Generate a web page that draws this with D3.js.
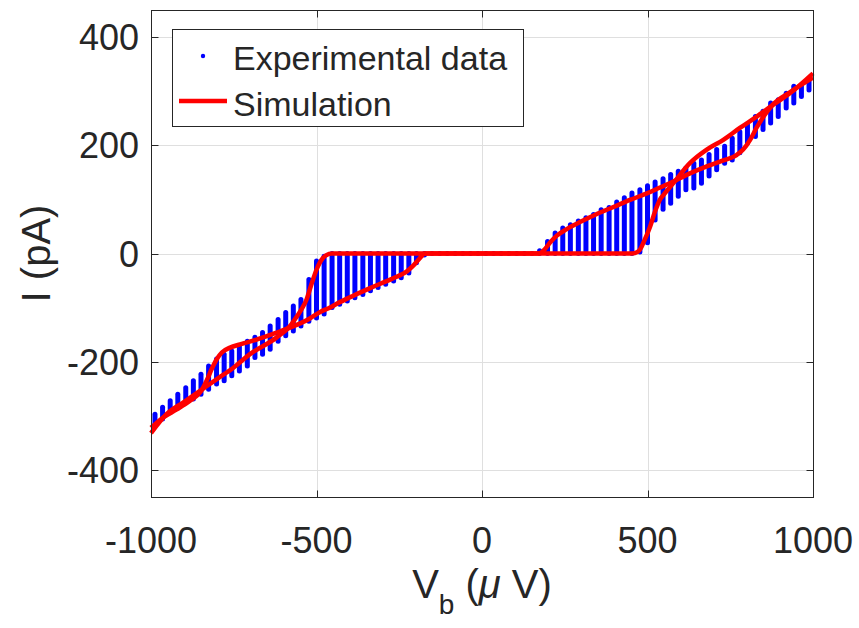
<!DOCTYPE html>
<html>
<head>
<meta charset="utf-8">
<script src="https://cdn.jsdelivr.net/npm/d3@7"></script>
<style>
  body { margin: 0; background: #fff; }
  svg { display: block; }
  text { font-family: "Liberation Sans", Arial, Helvetica, sans-serif; fill: #262626; }
</style>
</head>
<body>
<script>
// bias voltage of each measured sweep column (uV)
var vb = [-988, -965, -942, -919, -895, -872, -849, -826, -802, -779, -756, -733, -709, -686, -663,
          -640, -616, -593, -570, -547, -523, -500, -477, -453, -430, -407, -384, -360, -337, -314,
          -291, -267, -244, -221, -198, -174, -151, -128, -105, -81, -58, -35, -12,
          12, 35, 58, 81, 105, 128, 151, 174, 198, 221, 244, 267, 291, 314, 337, 360, 384,
          407, 430, 453, 477, 500, 523, 547, 570, 593, 616, 640, 663, 686, 709, 733,
          756, 779, 802, 826, 849, 872, 895, 919, 942, 965, 988];
// lowest / highest measured current in each column (pA)
var barLo = [-315, -306, -294, -284, -275, -269, -260, -251, -241, -235, -226, -217, -208, -192, -186,
             -177, -162, -152, -143, -134, -125, -119, -112, -100, -94, -88, -82, -76, -69, -63,
             -57, -51, -45, -36, -17, -3, 0, 0, 0, 0, 0, 0, 0,
             0, 0, 0, 0, 0, 0, 0, 0, 0, 0, 0, 0, 0, 0, 0, 0, 0,
             0, 0, 0, 3, 20, 62, 82, 93, 106, 118, 121, 130, 143, 155, 167,
             173, 186, 204, 216, 229, 241, 253, 269, 278, 290, 302];
var barHi = [-297, -284, -272, -260, -248, -235, -223, -208, -195, -186, -180, -171, -162, -155, -146,
             -134, -122, -109, -97, -85, -48, -14, -5, 0, 0, 0, 0, 0, 0, 0,
             0, 0, 0, 0, 0, 0, 0, 0, 0, 0, 0, 0, 0,
             0, 0, 0, 0, 0, 0, 0, 5, 22, 38, 47, 53, 60, 66, 72, 81, 85,
             95, 103, 112, 118, 125, 132, 138, 146, 152, 158, 167, 173, 183, 192, 198,
             213, 225, 238, 253, 263, 278, 284, 296, 309, 312, 321];

// simulation, branch that opens early (gap at ~170 uV)
var simVA = [-1000, -963, -922, -882, -852, -832, -817, -801, -786, -761, -731, -681, -620, -580,
             -520, -489, -459, -439, -389, -338, -288, -258, -227, -207, -187, -172,
             172, 187, 205, 226, 256, 296, 347, 397, 447, 498, 538, 578, 628, 679, 729,
             769, 789, 810, 830, 855, 880, 930, 1000];
var simIA = [-322, -303, -288, -272, -257, -235, -214, -195, -183, -174, -168, -159, -146, -137,
             -120, -108, -100, -93, -78, -64, -51, -43, -33, -22, -8, 0,
             0, 6, 20, 33, 45, 58, 73, 86, 99, 111, 122, 133, 148, 161, 172,
             182, 192, 210, 233, 257, 276, 298, 325];
// simulation, branch that stays blocked until ~460 uV
var simVB = [-1000, -953, -902, -852, -801, -751, -701, -620, -580, -560, -545, -530, -520, -510,
             -500, -490, -480, -470, -454, 454, 470, 480, 492, 508, 523, 538, 548, 578, 628,
             679, 729, 779, 830, 880, 930, 1000];
var simIB = [-332, -297, -275, -254, -232, -211, -186, -155, -134, -117, -103, -85, -66, -47,
             -30, -17, -8, -3, 0, 0, 3, 10, 26, 50, 78, 100, 108, 130, 167,
             192, 210, 232, 253, 275, 296, 333];

var xTicks = [-1000, -500, 0, 500, 1000];
var yTicks = [-400, -200, 0, 200, 400];

var W = 859, H = 628;
var margin = {top: 10, right: 46, bottom: 131, left: 151},
    width = W - margin.left - margin.right,
    height = H - margin.top - margin.bottom;

var x = d3.scaleLinear().domain([-1000, 1000]).range([margin.left, margin.left + width]);
var y = d3.scaleLinear().domain([-450, 450]).range([margin.top + height, margin.top]);

var svg = d3.select("body").append("svg")
    .attr("width", W)
    .attr("height", H);

var axisCol = "#262626";

// grid
svg.append("g").selectAll("line")
    .data(xTicks.slice(1, -1))
  .enter().append("line")
    .attr("x1", function(d) { return Math.round(x(d)) + 0.5; })
    .attr("x2", function(d) { return Math.round(x(d)) + 0.5; })
    .attr("y1", margin.top)
    .attr("y2", margin.top + height)
    .attr("stroke", "#dfdfdf");
svg.append("g").selectAll("line")
    .data(yTicks)
  .enter().append("line")
    .attr("y1", function(d) { return Math.round(y(d)) + 0.5; })
    .attr("y2", function(d) { return Math.round(y(d)) + 0.5; })
    .attr("x1", margin.left)
    .attr("x2", margin.left + width)
    .attr("stroke", "#dfdfdf");

// experimental data: each sweep column is a dense stack of dots
var plot = svg.append("g");
plot.selectAll(".bar")
    .data(vb)
  .enter().append("line")
    .attr("class", "bar")
    .attr("x1", function(d) { return x(d); })
    .attr("x2", function(d) { return x(d); })
    .attr("y1", function(d, i) { return y(barLo[i]); })
    .attr("y2", function(d, i) { return y(barHi[i]); })
    .attr("stroke", "#0000ff")
    .attr("stroke-width", 5)
    .attr("stroke-linecap", "round");

// simulation curves
var line = d3.line()
    .x(function(d) { return x(d[0]); })
    .y(function(d) { return y(d[1]); })
    .curve(d3.curveMonotoneX);

[[simVA, simIA], [simVB, simIB]].forEach(function(s) {
  plot.append("path")
      .datum(s[0].map(function(v, i) { return [v, s[1][i]]; }))
      .attr("d", line)
      .attr("fill", "none")
      .attr("stroke", "#ff0000")
      .attr("stroke-width", 4.5)
      .attr("stroke-linejoin", "round");
});

// axes box
var x0 = margin.left + 0.5, x1 = margin.left + width + 0.5,
    y0 = margin.top + 0.5, y1 = margin.top + height + 0.5;
svg.append("rect")
    .attr("x", x0).attr("y", y0)
    .attr("width", x1 - x0).attr("height", y1 - y0)
    .attr("fill", "none")
    .attr("stroke", axisCol);

// ticks (inward, all sides)
var tl = 7;
var ticks = svg.append("g").attr("stroke", axisCol);
xTicks.forEach(function(t) {
  var px = Math.round(x(t)) + 0.5;
  ticks.append("line").attr("x1", px).attr("x2", px).attr("y1", y1).attr("y2", y1 - tl);
  ticks.append("line").attr("x1", px).attr("x2", px).attr("y1", y0).attr("y2", y0 + tl);
});
yTicks.forEach(function(t) {
  var py = Math.round(y(t)) + 0.5;
  ticks.append("line").attr("y1", py).attr("y2", py).attr("x1", x0).attr("x2", x0 + tl);
  ticks.append("line").attr("y1", py).attr("y2", py).attr("x1", x1).attr("x2", x1 - tl);
});

// tick labels
svg.append("g").selectAll("text")
    .data(xTicks)
  .enter().append("text")
    .attr("x", function(d) { return x(d); })
    .attr("y", 553)
    .attr("text-anchor", "middle")
    .attr("font-size", 36)
    .text(function(d) { return d; });
svg.append("g").selectAll("text")
    .data(yTicks)
  .enter().append("text")
    .attr("x", 139)
    .attr("y", function(d) { return y(d) + 13; })
    .attr("text-anchor", "end")
    .attr("font-size", 36)
    .text(function(d) { return d; });

// axis labels
var xl = svg.append("text")
    .attr("x", x(0))
    .attr("y", 598)
    .attr("text-anchor", "middle")
    .attr("font-size", 40);
xl.append("tspan").text("V");
xl.append("tspan").attr("font-size", 28).attr("dy", 16).text("b");
xl.append("tspan").attr("dy", -16).text(" (");
xl.append("tspan").attr("font-style", "italic").text("\u03bc");
xl.append("tspan").text(" V)");

svg.append("text")
    .attr("transform", "translate(50," + y(0) + ") rotate(-90)")
    .attr("text-anchor", "middle")
    .attr("font-size", 40)
    .text("I (pA)");

// legend
var lg = svg.append("g");
lg.append("rect")
    .attr("x", 172.5).attr("y", 29.5)
    .attr("width", 351).attr("height", 97)
    .attr("fill", "#fff")
    .attr("stroke", axisCol);
lg.append("circle")
    .attr("cx", 203).attr("cy", 56).attr("r", 2.2)
    .attr("fill", "#0000ff");
lg.append("line")
    .attr("x1", 179).attr("x2", 227)
    .attr("y1", 101).attr("y2", 101)
    .attr("stroke", "#ff0000").attr("stroke-width", 4.5);
lg.append("text").attr("x", 233).attr("y", 70).attr("font-size", 34).text("Experimental data");
lg.append("text").attr("x", 233).attr("y", 116).attr("font-size", 34).text("Simulation");
</script>
</body>
</html>
